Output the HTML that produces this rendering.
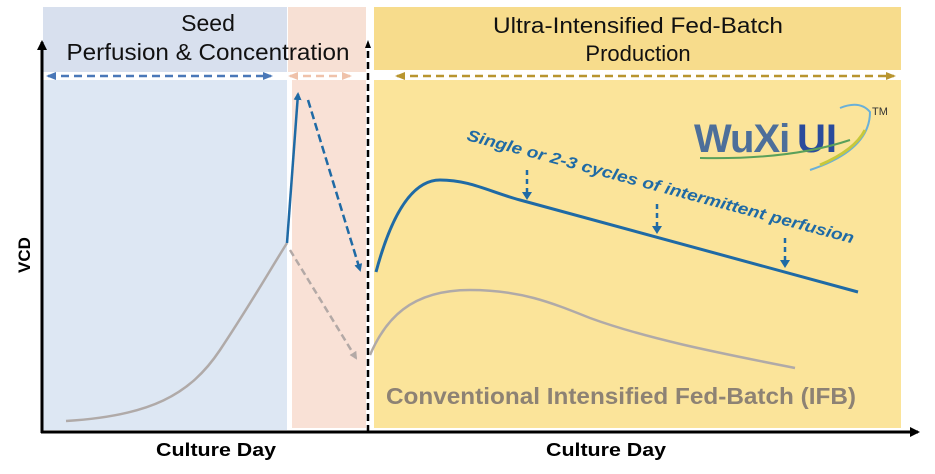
<!DOCTYPE html>
<html><head><meta charset="utf-8"><style>
html,body{margin:0;padding:0;background:#fff;width:935px;height:474px;overflow:hidden}
svg{display:block}
</style></head><body>
<svg width="935" height="474" viewBox="0 0 935 474" xmlns="http://www.w3.org/2000/svg" font-family="Liberation Sans, sans-serif">
<defs>
<marker id="ab" markerWidth="8" markerHeight="8" refX="6" refY="4" orient="auto" markerUnits="userSpaceOnUse"><path d="M0,0 L8,4 L0,8 z" fill="#1f6aa5"/></marker>
<marker id="ag" markerWidth="8" markerHeight="8" refX="6" refY="4" orient="auto" markerUnits="userSpaceOnUse"><path d="M0,0 L8,4 L0,8 z" fill="#b3a9a6"/></marker>
<marker id="ak" markerWidth="10" markerHeight="10" refX="8" refY="5" orient="auto" markerUnits="userSpaceOnUse"><path d="M0,0 L10,5 L0,10 z" fill="#000"/></marker>
<marker id="hb" markerWidth="10" markerHeight="8" refX="8" refY="4" orient="auto-start-reverse" markerUnits="userSpaceOnUse"><path d="M0,0 L10,4 L0,8 z" fill="#4a78b8"/></marker>
<marker id="hp" markerWidth="10" markerHeight="8" refX="8" refY="4" orient="auto-start-reverse" markerUnits="userSpaceOnUse"><path d="M0,0 L10,4 L0,8 z" fill="#efc2aa"/></marker>
<marker id="hy" markerWidth="10" markerHeight="8" refX="8" refY="4" orient="auto-start-reverse" markerUnits="userSpaceOnUse"><path d="M0,0 L10,4 L0,8 z" fill="#b89530"/></marker>
</defs>
<rect x="43" y="7" width="244" height="65" fill="#d8e0ee"/>
<rect x="43" y="80" width="244" height="350" fill="#dde7f3"/>
<rect x="288" y="7" width="78" height="65" fill="#f7e0d4"/>
<rect x="292" y="80" width="74" height="348" fill="#f9e1d6"/>
<rect x="374" y="7" width="527" height="63" fill="#f7dc8c"/>
<rect x="374" y="80" width="527" height="348" fill="#fbe49a"/>
<text x="208" y="31" font-size="23" text-anchor="middle" fill="#111">Seed</text>
<text x="208" y="60" font-size="23" text-anchor="middle" fill="#111" textLength="283" lengthAdjust="spacingAndGlyphs">Perfusion &amp; Concentration</text>
<text x="638" y="33" font-size="22" text-anchor="middle" fill="#111" textLength="290" lengthAdjust="spacingAndGlyphs">Ultra-Intensified Fed-Batch</text>
<text x="638" y="61" font-size="22" text-anchor="middle" fill="#111">Production</text>
<line x1="48" y1="76" x2="271" y2="76" stroke="#4a78b8" stroke-width="2.5" stroke-dasharray="8,5" marker-start="url(#hb)" marker-end="url(#hb)"/>
<line x1="290" y1="76" x2="350" y2="76" stroke="#efc2aa" stroke-width="2.5" stroke-dasharray="8,5" marker-start="url(#hp)" marker-end="url(#hp)"/>
<line x1="397" y1="76" x2="894" y2="76" stroke="#b89530" stroke-width="2.5" stroke-dasharray="8,5" marker-start="url(#hy)" marker-end="url(#hy)"/>
<line x1="42" y1="433" x2="42" y2="42" stroke="#000" stroke-width="3" marker-end="url(#ak)"/>
<line x1="41" y1="432" x2="918" y2="432" stroke="#000" stroke-width="3" marker-end="url(#ak)"/>
<line x1="368" y1="432" x2="368" y2="46" stroke="#000" stroke-width="2.5" stroke-dasharray="7,4"/>
<path d="M365,48 L368,40 L371,48 z" fill="#000"/>
<text x="30" y="255" font-size="17" font-weight="bold" text-anchor="middle" transform="rotate(-90 30 255)">VCD</text>
<text x="156" y="456" font-size="18" font-weight="bold" textLength="120" lengthAdjust="spacingAndGlyphs">Culture Day</text>
<text x="546" y="456" font-size="18" font-weight="bold" textLength="120" lengthAdjust="spacingAndGlyphs">Culture Day</text>
<path d="M66,421 C150,416 190,395 220,350 C250,305 270,270 287,243" fill="none" stroke="#b0aaa8" stroke-width="2.5"/>
<line x1="290" y1="250" x2="356" y2="358" stroke="#b3a9a6" stroke-width="2.5" stroke-dasharray="7,4" marker-end="url(#ag)"/>
<line x1="287" y1="243" x2="298" y2="94" stroke="#1f6aa5" stroke-width="2.5" marker-end="url(#ab)"/>
<line x1="308" y1="100" x2="360" y2="270" stroke="#1f6aa5" stroke-width="2.5" stroke-dasharray="8,4" marker-end="url(#ab)"/>
<path d="M376,272 C390,220 410,180 440,180 C470,180 490,192 520,200 L858,292" fill="none" stroke="#1f6aa5" stroke-width="3"/>
<path d="M370,355 C385,320 410,290 470,290 C520,290 550,302 590,318 C650,340 730,355 795,368" fill="none" stroke="#b0aaa8" stroke-width="2.5"/>
<g stroke="#1f6aa5" stroke-width="2.5" stroke-dasharray="5,4">
<line x1="527" y1="170" x2="527" y2="194"/><line x1="657" y1="204" x2="657" y2="228"/><line x1="785" y1="238" x2="785" y2="262"/>
</g>
<g fill="#1f6aa5"><path d="M522,192 L527,200 L532,192z"/><path d="M652,226 L657,234 L662,226z"/><path d="M780,260 L785,268 L790,260z"/></g>
<text x="466" y="140" font-size="16" font-weight="bold" font-style="italic" fill="#1f6aa5" transform="rotate(15 466 140)" textLength="400" lengthAdjust="spacingAndGlyphs">Single or 2-3 cycles of intermittent perfusion</text>
<text x="694" y="152" font-size="40" font-weight="bold" fill="#4d6f9a" letter-spacing="-1">WuXi</text>
<text x="797" y="152" font-size="40" font-weight="bold" fill="#2a4b9c">UI</text>
<path d="M700,158 Q790,160 850,140" fill="none" stroke="#5aa05a" stroke-width="2"/>
<path d="M810,170 Q870,150 870,112 Q860,100 840,108" fill="none" stroke="#6ab0d8" stroke-width="2"/>
<path d="M820,165 Q855,150 865,130" fill="none" stroke="#c8c83a" stroke-width="3"/>
<text x="872" y="115" font-size="11" fill="#333">TM</text>
<text x="386" y="404" font-size="23" font-weight="bold" fill="#8d8274" textLength="470" lengthAdjust="spacingAndGlyphs">Conventional Intensified Fed-Batch (IFB)</text>
</svg>
</body></html>
